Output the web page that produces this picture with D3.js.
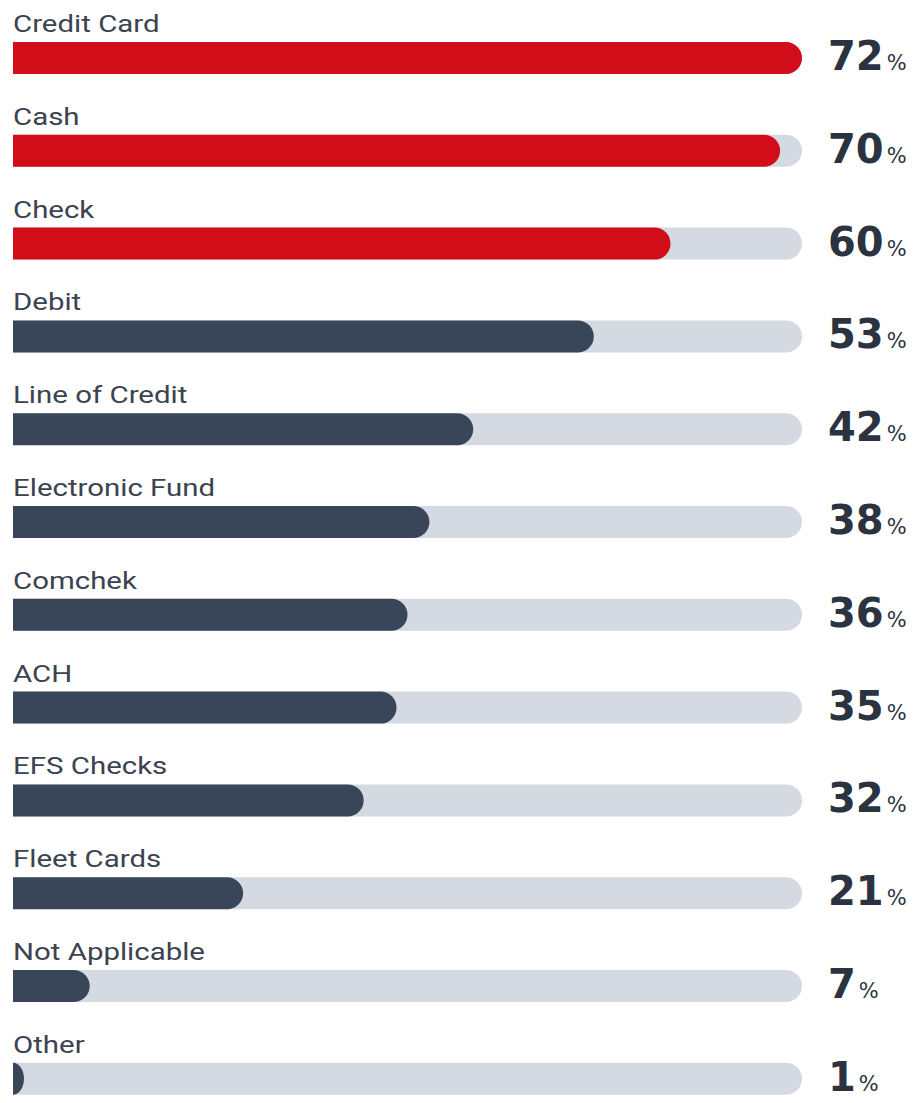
<!DOCTYPE html>
<html>
<head>
<meta charset="utf-8">
<script src="https://cdn.jsdelivr.net/npm/d3@7"></script>
<style>
  html, body { margin: 0; padding: 0; background: #ffffff; }
  svg { display: block; }
</style>
</head>
<body>
<div id="chart"></div>
<script>
// Payment methods accepted (share of respondents, %)
const categories = [
    'Credit Card', 'Cash', 'Check', 'Debit', 'Line of Credit', 'Electronic Fund',
    'Comchek', 'ACH', 'EFS Checks', 'Fleet Cards', 'Not Applicable', 'Other'
];
const values = [72, 70, 60, 53, 42, 38, 36, 35, 32, 21, 7, 1];
const highlighted = ['Credit Card', 'Cash', 'Check'];

const width = 915;
const height = 1103;
const barH = 32;
const step = 92.8;

const svg = d3.select('#chart').append('svg')
    .attr('width', width)
    .attr('height', height);

const x = d3.scaleLinear()
    .domain([0, d3.max(values)])
    .range([13, 802]);

const y = d3.scaleBand()
    .domain(categories)
    .range([10, 10 + categories.length * step]);

const data = categories.map((c, i) => ({ label: c, value: values[i] }));

// Bar with square left end and rounded right end
function capBar(x0, x1, top) {
    const w = Math.max(0, x1 - x0);
    const ry = barH / 2;
    const rx = Math.min(ry, w);
    return `M${x0},${top} H${x0 + w - rx} A${rx},${ry} 0 0 1 ${x0 + w - rx},${top + barH} H${x0} Z`;
}

const row = svg.append('g')
    .selectAll('g')
    .data(data)
    .join('g')
    .attr('transform', d => `translate(0,${y(d.label)})`);

// Category labels (stretched horizontally like the source)
row.append('text')
    .text(d => d.label)
    .attr('transform', 'translate(13,22) scale(1.28,1)')
    .attr('font-family', 'Roboto, "Noto Sans", sans-serif')
    .attr('font-size', '23px')
    .attr('fill', '#3b4350');

// Background track
row.append('path')
    .attr('d', () => capBar(x(0), x.range()[1], barH))
    .attr('fill', '#d4d9e2');

// Value bar
row.append('path')
    .attr('d', d => capBar(x(0), x(d.value), barH))
    .attr('fill', d => highlighted.includes(d.label) ? '#d10d19' : '#394659');

// Value labels
const val = row.append('text')
    .attr('x', 828)
    .attr('y', barH * 2 - 4)
    .attr('font-family', '"DejaVu Sans", sans-serif')
    .attr('font-weight', 'bold')
    .attr('fill', '#2b3340');

val.append('tspan')
    .text(d => d.value)
    .attr('font-size', '40px');

val.append('tspan')
    .text('%')
    .attr('dx', 3)
    .attr('font-weight', 'normal')
    .attr('font-size', '21px');
</script>
</body>
</html>
